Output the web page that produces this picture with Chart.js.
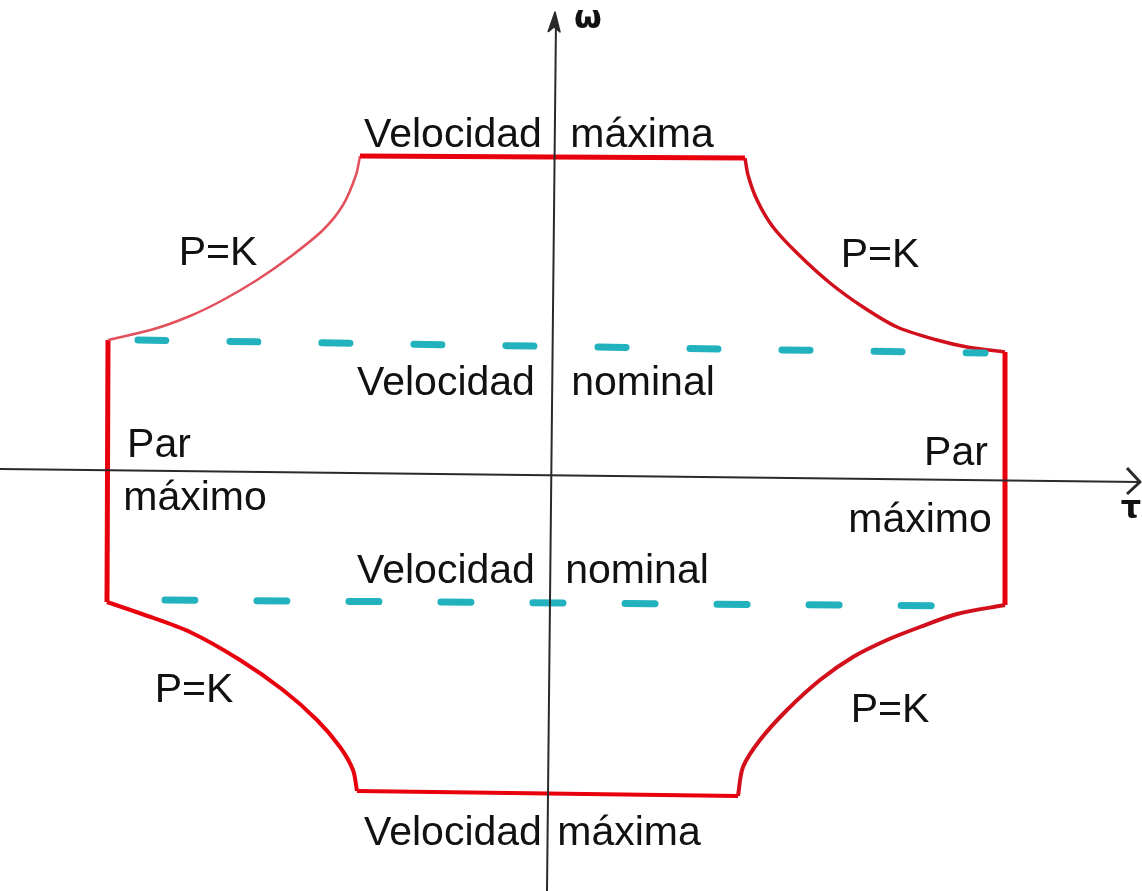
<!DOCTYPE html>
<html>
<head>
<meta charset="utf-8">
<script src="https://cdn.jsdelivr.net/npm/chart.js@4/dist/chart.umd.min.js"></script>
<style>
  html, body { margin: 0; padding: 0; background: #fff; }
  #wrap { width: 1142px; height: 891px; position: relative; }
</style>
</head>
<body>
<div id="wrap"><canvas id="chart"></canvas></div>
<script>
// torque (tau) on x, speed (omega) on y
var topLine = [[-1.92, 3.14], [1.93, 3.12]];
var topLeftCurve = [[-1.92, 3.14], [-1.96, 2.95], [-2.09, 2.65], [-2.29, 2.40], [-2.62, 2.13], [-2.95, 1.90],
	[-3.29, 1.70], [-3.62, 1.54], [-3.98, 1.41], [-4.44, 1.30]];
var leftLine = [[-4.44, 1.30], [-4.45, -1.32]];
var bottomLeftCurve = [[-4.45, -1.32], [-4.10, -1.44], [-3.62, -1.62], [-3.12, -1.90], [-2.69, -2.20],
	[-2.35, -2.50], [-2.12, -2.77], [-1.99, -3.00], [-1.95, -3.21]];
var bottomLine = [[-1.95, -3.21], [1.86, -3.26]];
var bottomRightCurve = [[1.86, -3.26], [1.91, -2.97], [2.08, -2.70], [2.35, -2.40], [2.68, -2.10], [3.01, -1.87],
	[3.35, -1.70], [3.68, -1.57], [4.05, -1.44], [4.53, -1.35]];
var rightLine = [[4.53, -1.35], [4.53, 1.18]];
var topRightCurve = [[4.53, 1.18], [4.15, 1.23], [3.85, 1.30], [3.45, 1.43], [3.11, 1.63], [2.78, 1.87],
	[2.45, 2.17], [2.21, 2.43], [2.05, 2.70], [1.96, 2.95], [1.93, 3.12]];
var nominalUpper = [[-4.14, 1.30], [4.33, 1.17]];
var nominalLower = [[-3.87, -1.30], [4.08, -1.36]];

var omegaAxis = [[0.04, 4.50], [-0.05, -4.21]];
var tauAxis = [[-5.52, 0.01], [5.88, -0.12]];
var omegaArrow = [[-0.04, 4.38], [0.03, 4.58], [0.08, 4.38], [0.02, 4.43], [-0.04, 4.38]];
var tauArrow = [[5.75, 0.02], [5.88, -0.12], [5.75, -0.24]];

var labelTexts = ['Velocidad', 'máxima', 'Velocidad', 'nominal', 'Velocidad', 'nominal', 'Velocidad', 'máxima',
	'P=K', 'P=K', 'P=K', 'P=K', 'Par', 'máximo', 'Par', 'máximo'];
var labelX = [-0.99, 0.90, -1.06, 0.91, -1.06, 0.85, -0.99, 0.77,
	-3.34, 3.28, -3.58, 3.38, -3.93, -3.57, 4.04, 3.68];
var labelY = [3.23, 3.23, 0.75, 0.75, -1.13, -1.13, -3.75, -3.75,
	2.05, 2.03, -2.32, -2.52, 0.13, -0.40, 0.05, -0.62];
var axisNames = ['ω', 'τ'];
var axisNameX = [0.36, 5.79];
var axisNameY = [4.42, -0.48];

function pts(a) {
	return a.map(function (p) { return {x: p[0], y: p[1]}; });
}

function seg(data, color, width, dash) {
	return {
		data: pts(data),
		showLine: true,
		borderColor: color,
		borderWidth: width,
		borderDash: dash || [],
		borderCapStyle: dash ? 'round' : 'butt',
		borderJoinStyle: 'round',
		pointRadius: 0,
		tension: 0.3,
		fill: false
	};
}

var red = '#e8000d';
var darkRed = '#d2101c';
var pink = '#e2505c';
var cyan = '#22b2bd';
var ink = '#2a2a2a';

var textPlugin = {
	id: 'texts',
	afterDatasetsDraw: function (chart) {
		var ctx = chart.ctx;
		var sx = chart.scales.x, sy = chart.scales.y;
		ctx.save();
		ctx.fillStyle = '#111';
		ctx.textAlign = 'center';
		ctx.textBaseline = 'alphabetic';
		ctx.font = '41px "Liberation Sans", Arial, sans-serif';
		for (var i = 0; i < labelTexts.length; i++) {
			ctx.fillText(labelTexts[i], sx.getPixelForValue(labelX[i]), sy.getPixelForValue(labelY[i]));
		}
		ctx.font = 'bold 32px "DejaVu Sans", sans-serif';
		for (var j = 0; j < axisNames.length; j++) {
			ctx.fillText(axisNames[j], sx.getPixelForValue(axisNameX[j]), sy.getPixelForValue(axisNameY[j]));
		}
		ctx.restore();
	}
};

var bgPlugin = {
	id: 'bg',
	beforeDraw: function (chart) {
		var ctx = chart.ctx;
		ctx.save();
		ctx.fillStyle = '#ffffff';
		ctx.fillRect(0, 0, chart.width, chart.height);
		ctx.restore();
	}
};

var arrowHead = seg(omegaArrow, ink, 1.5);
arrowHead.tension = 0;
arrowHead.fill = 'shape';
arrowHead.backgroundColor = ink;
var tauHead = seg(tauArrow, ink, 3);
tauHead.tension = 0;

new Chart(document.getElementById('chart'), {
	type: 'scatter',
	data: {
		datasets: [
			seg(omegaAxis, ink, 2),
			seg(tauAxis, ink, 2),
			arrowHead,
			tauHead,
			seg(nominalUpper, cyan, 7, [28, 64]),
			seg(nominalLower, cyan, 7, [30, 62]),
			seg(topLine, red, 5),
			seg(topLeftCurve, pink, 2.5),
			seg(leftLine, red, 5),
			seg(bottomLeftCurve, red, 4),
			seg(bottomLine, red, 4),
			seg(bottomRightCurve, darkRed, 4),
			seg(rightLine, red, 5),
			seg(topRightCurve, darkRed, 3.5)
		]
	},
	options: {
		responsive: true,
		maintainAspectRatio: false,
		animation: false,
		layout: { padding: 0 },
		plugins: { legend: { display: false }, tooltip: { enabled: false } },
		scales: {
			x: { type: 'linear', display: false, min: -5.52, max: 5.90 },
			y: { type: 'linear', display: false, min: -4.21, max: 4.70 }
		}
	},
	plugins: [bgPlugin, textPlugin]
});
</script>
</body>
</html>
